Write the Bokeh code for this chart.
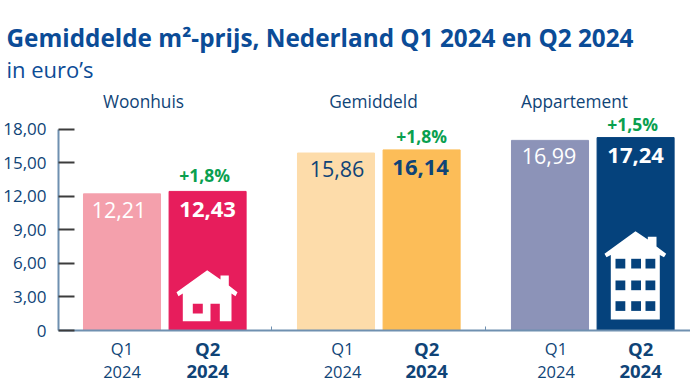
from bokeh.plotting import figure
from bokeh.models import ColumnDataSource, Range1d, FixedTicker, Label
from bokeh.embed import file_html
from bokeh.resources import INLINE

groups = ["Woonhuis", "Gemiddeld", "Appartement"]
q1_values = [12.21, 15.86, 16.99]
q2_values = [12.43, 16.14, 17.24]
q1_labels = ["12,21", "15,86", "16,99"]
q2_labels = ["12,43", "16,14", "17,24"]
changes = ["+1,8%", "+1,8%", "+1,5%"]
q1_colors = ["#f4a0ac", "#fddcaa", "#8c93b8"]
q2_colors = ["#e71d5c", "#fcbd58", "#05427c"]
q1_text_colors = ["#ffffff", "#0f4477", "#ffffff"]
q2_text_colors = ["#ffffff", "#0f4477", "#ffffff"]
y_ticks = [0, 3, 6, 9, 12, 15, 18]
y_tick_labels = ["0", "3,00", "6,00", "9,00", "12,00", "15,00", "18,00"]
title = "Gemiddelde m²-prijs, Nederland Q1 2024 en Q2 2024"
subtitle = "in euro’s"

FONT = "Open Sans"
NAVY = "#0f4477"
BLUE = "#0b4c97"
GREEN = "#0aa04f"
PX_X = 85.6      # pixels per bar pitch
PX_Y = 11.19     # pixels per euro
GROUP_STEP = 2.5

W, H = 690, 388
AXIS_PX, ZERO_PX, FIRST_BAR_PX = 58, 330, 121.5

# hand placement of the texts, in pixels, per group
Q1_VALUE_DX = [-3, 1, -1]
Q2_VALUE_DX = [0, -1, 0]
CHANGE_DX = [-3, 0, -3]
CHANGE_DY = [16, 14, 14]
Q1_NAME_DX = [0, 6.5, 6]
Q2_NAME_DX = [0, 5, 5]


def to_x(px):
    return (px - FIRST_BAR_PX) / PX_X


def to_y(py):
    return (ZERO_PX - py) / PX_Y


p = figure(width=W, height=H, output_backend="svg", toolbar_location=None,
           x_range=Range1d(to_x(0), to_x(W)), y_range=Range1d(to_y(H), to_y(0)),
           min_border_left=0, min_border_right=0, min_border_top=0, min_border_bottom=0,
           outline_line_color=None, background_fill_color="white")
p.grid.visible = False

q1_x = [i * GROUP_STEP for i in range(3)]
q2_x = [x + 1 for x in q1_x]
src = ColumnDataSource(dict(q1_x=q1_x, q2_x=q2_x, q1=q1_values, q2=q2_values,
                            q1_c=q1_colors, q2_c=q2_colors))
p.vbar(x="q1_x", top="q1", bottom=0, width=0.9, color="q1_c", source=src)
p.vbar(x="q2_x", top="q2", bottom=0, width=0.9, color="q2_c", source=src)

# y axis
ya = p.yaxis[0]
ya.fixed_location = to_x(AXIS_PX)
ya.ticker = FixedTicker(ticks=y_ticks)
ya.major_label_overrides = {t: s for t, s in zip(y_ticks, y_tick_labels)}
ya.bounds = (0, 18)
ya.axis_line_color = "#6f90b0"
ya.axis_line_width = 2
ya.major_tick_line_color = "#3c3c3c"
ya.major_tick_line_width = 2
ya.major_tick_in = 16
ya.major_tick_out = 0
ya.minor_tick_line_color = None
ya.major_label_text_font = FONT
ya.major_label_text_font_size = "17px"
ya.major_label_text_color = NAVY
ya.major_label_standoff = 12

# x axis: only the small separators between the groups
xa = p.xaxis[0]
xa.fixed_location = 0
sep_ticks = [(i + 0.5) * GROUP_STEP + 0.5 for i in range(2)]
xa.ticker = FixedTicker(ticks=sep_ticks)
xa.major_label_overrides = {t: "" for t in sep_ticks}
xa.bounds = (to_x(AXIS_PX), to_x(W))
xa.axis_line_color = "#6f90b0"
xa.axis_line_width = 2
xa.major_tick_line_color = "#6f90b0"
xa.major_tick_in = 4
xa.major_tick_out = 0
xa.minor_tick_line_color = None


def put(x, y, text, size, color, style="normal", y_offset=0, x_offset=0, align="center"):
    p.add_layout(Label(x=x, y=y, text=text, text_font=FONT, text_font_size=size,
                       text_font_style=style, text_color=color, text_align=align,
                       text_baseline="middle", y_offset=y_offset, x_offset=x_offset))


for i in range(3):
    put(q1_x[i], q1_values[i], q1_labels[i], "21.5px", q1_text_colors[i], y_offset=-16, x_offset=Q1_VALUE_DX[i])
    put(q2_x[i], q2_values[i], q2_labels[i], "22px", q2_text_colors[i], "bold", y_offset=-18, x_offset=Q2_VALUE_DX[i])
    put(q2_x[i], q2_values[i], changes[i], "17.5px", GREEN, "bold", y_offset=CHANGE_DY[i], x_offset=CHANGE_DX[i])
    put(q1_x[i], 0, "Q1", "16.5px", NAVY, y_offset=-18, x_offset=Q1_NAME_DX[i])
    put(q1_x[i], 0, "2024", "16.5px", NAVY, y_offset=-41, x_offset=Q1_NAME_DX[i])
    put(q2_x[i], 0, "Q2", "18.5px", NAVY, "bold", y_offset=-18, x_offset=Q2_NAME_DX[i])
    put(q2_x[i], 0, "2024", "18.5px", NAVY, "bold", y_offset=-41, x_offset=Q2_NAME_DX[i])

# group headings
for name, px in zip(groups, [143, 373, 574]):
    put(to_x(px), to_y(101), name, "17.3px", NAVY)

put(to_x(6), to_y(37), title, "24.3px", BLUE, "bold", align="left")
put(to_x(6), to_y(68), subtitle, "22px", BLUE, align="left")


def shape(points, color="white"):
    p.patch([to_x(a) for a, _ in points], [to_y(b) for _, b in points],
            color=color, line_width=0)


def box(l, r, t, b, color):
    p.quad(left=[to_x(l)], right=[to_x(r)], top=[to_y(t)], bottom=[to_y(b)],
           color=color, line_width=0)


# house icon
shape([(206.7, 269.7), (220, 279), (220, 275), (228.3, 275), (228.3, 285), (237, 291.7),
       (235, 295.7), (231, 293), (231, 320.7), (219.3, 320.7), (219.3, 303.3), (210, 303.3),
       (210, 320.7), (182.3, 320.7), (182.3, 293), (178, 295.7), (176, 291.7)])
box(192.3, 202.3, 303.3, 313, q2_colors[0])

# apartment icon
shape([(635, 230.7), (647.3, 239), (647.3, 236.3), (656, 236.3), (656, 246), (665.7, 253.3),
       (663.5, 256.7), (659.3, 254.5), (659.3, 319), (610.3, 319), (610.3, 254.5),
       (606, 256.7), (604, 253.3)])
for l in (615, 630.7, 645):
    for t in (258.3, 280, 300.7):
        box(l, l + 9.8, t, t + 9.7, q2_colors[2])

open("out.html", "w").write(file_html(p, INLINE))
